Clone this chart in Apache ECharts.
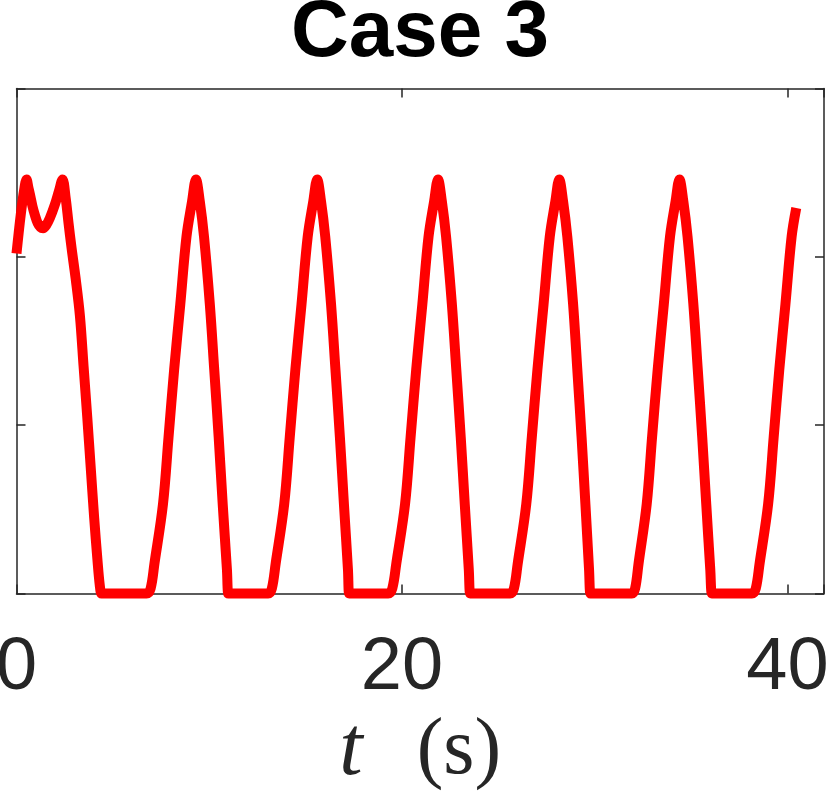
<!DOCTYPE html>
<html>
<head>
<meta charset="utf-8">
<script src="https://cdn.jsdelivr.net/npm/echarts@6/dist/echarts.min.js"></script>
<style>
  html, body { margin: 0; padding: 0; background: #fff; }
  #chart { width: 830px; height: 804px; }
</style>
</head>
<body>
<div id="chart"></div>
<script>
// time axis (s) and signal
const tSec = [
  0, 0.22, 0.4, 0.52, 0.62, 0.7, 0.83, 0.95, 1.1, 1.25, 1.38, 1.55, 1.73, 1.99, 2.2, 2.39,
  2.55, 2.7, 2.86, 3.07, 3.29, 3.48, 3.67, 3.85, 4.03, 4.2, 4.32, 4.41, 4.5,
  6.75, 6.96, 7.16, 7.6, 7.89, 8.18, 8.5, 8.82, 9.11, 9.31, 9.51, 9.73, 10.03, 10.26, 10.49, 10.7, 10.92, 10.99, 11.06,
  13.06, 13.25, 13.45, 13.89, 14.18, 14.47, 14.79, 15.11, 15.4, 15.6, 15.8, 16.02, 16.32, 16.55, 16.78, 16.99, 17.2, 17.26, 17.33,
  19.29, 19.5, 19.71, 20.16, 20.45, 20.74, 21.06, 21.38, 21.67, 21.87, 22.07, 22.29, 22.59, 22.82, 23.05, 23.26, 23.47, 23.54, 23.61,
  25.61, 25.81, 26.01, 26.45, 26.74, 27.03, 27.35, 27.67, 27.96, 28.16, 28.36, 28.58, 28.88, 29.1, 29.32, 29.52, 29.71, 29.78, 29.85,
  31.93, 32.1, 32.28, 32.7, 32.98, 33.27, 33.59, 33.91, 34.2, 34.4, 34.6, 34.82, 35.12, 35.35, 35.58, 35.79, 36.0, 36.08, 36.15,
  38.16, 38.36, 38.56, 39.0, 39.29, 39.58, 39.9, 40.22, 40.46
];
const signal = [
  2.02, 2.25, 2.4, 2.46, 2.41, 2.37, 2.3, 2.25, 2.2, 2.175, 2.17, 2.19, 2.23, 2.31, 2.39, 2.46,
  2.35, 2.2, 2.05, 1.87, 1.65, 1.35, 1.05, 0.75, 0.45, 0.2, 0.05, 0, 0,
  0, 0.03, 0.18, 0.53, 0.93, 1.33, 1.72, 2.12, 2.33, 2.46, 2.33, 2.12, 1.72, 1.33, 0.93, 0.53, 0.14, 0, 0,
  0, 0.03, 0.18, 0.53, 0.93, 1.33, 1.72, 2.12, 2.33, 2.46, 2.33, 2.12, 1.72, 1.33, 0.93, 0.53, 0.14, 0, 0,
  0, 0.03, 0.18, 0.53, 0.93, 1.33, 1.72, 2.12, 2.33, 2.46, 2.33, 2.12, 1.72, 1.33, 0.93, 0.53, 0.14, 0, 0,
  0, 0.03, 0.18, 0.53, 0.93, 1.33, 1.72, 2.12, 2.33, 2.46, 2.33, 2.12, 1.72, 1.33, 0.93, 0.53, 0.14, 0, 0,
  0, 0.03, 0.18, 0.53, 0.93, 1.33, 1.72, 2.12, 2.33, 2.46, 2.33, 2.12, 1.72, 1.33, 0.93, 0.53, 0.14, 0, 0,
  0, 0.03, 0.18, 0.53, 0.93, 1.33, 1.72, 2.12, 2.29
];
const xTicks = [0, 20, 40];
const xMax = 41.9;
const yMin = 0, yMax = 3, yStep = 1;

const axisColor = '#262626';
const chart = echarts.init(document.getElementById('chart'));

// shared look of the box axes (matlab style, ticks inside)
const boxAxis = {
  axisLine: { show: true, onZero: false, lineStyle: { color: axisColor, width: 1.5 } },
  axisTick: { show: true, inside: true, length: 9, lineStyle: { color: axisColor, width: 1.5 } },
  splitLine: { show: false }
};

const option = {
  animation: false,
  title: {
    text: 'Case 3',
    left: 420,
    top: -6,
    padding: 0,
    textAlign: 'center',
    textStyle: { fontFamily: 'Liberation Sans', fontWeight: 'bold', fontSize: 80, lineHeight: 80, color: '#000' }
  },
  grid: {
    left: 16.5, right: 6, top: 88.5, bottom: 210.5,
    containLabel: false,
    outerBoundsMode: 'none'
  },
  xAxis: [
    {
      ...boxAxis,
      type: 'value',
      position: 'bottom',
      min: 0, max: xMax, interval: 20,
      axisLabel: {
        margin: 38,
        color: axisColor,
        fontFamily: 'Liberation Sans',
        fontSize: 74,
        lineHeight: 74,
        formatter: v => (xTicks.includes(v) ? String(v) : '')
      },
      name: '{t|t}{s|(s)}',
      nameLocation: 'middle',
      nameGap: 118,
      nameTextStyle: {
        rich: {
          t: { fontFamily: 'Liberation Serif', fontStyle: 'italic', fontSize: 84, lineHeight: 80, color: axisColor, padding: [0, 54, 0, 0] },
          s: { fontFamily: 'Liberation Serif', fontSize: 80, lineHeight: 80, color: axisColor }
        }
      }
    },
    {
      ...boxAxis,
      type: 'value',
      position: 'top',
      min: 0, max: xMax, interval: 20,
      axisLabel: { show: false }
    }
  ],
  yAxis: [
    {
      ...boxAxis,
      type: 'value',
      position: 'left',
      min: yMin, max: yMax, interval: yStep,
      axisLabel: { show: false }
    },
    {
      ...boxAxis,
      type: 'value',
      position: 'right',
      min: yMin, max: yMax, interval: yStep,
      axisLabel: { show: false }
    }
  ],
  series: [
    {
      type: 'line',
      xAxisIndex: 0,
      yAxisIndex: 0,
      data: tSec.map((t, i) => [t, signal[i]]),
      symbol: 'none',
      smooth: 0.35,
      clip: false,
      z: 5,
      lineStyle: { color: '#ff0000', width: 10, join: 'round', cap: 'butt' }
    }
  ]
};

chart.setOption(option);
</script>
</body>
</html>
